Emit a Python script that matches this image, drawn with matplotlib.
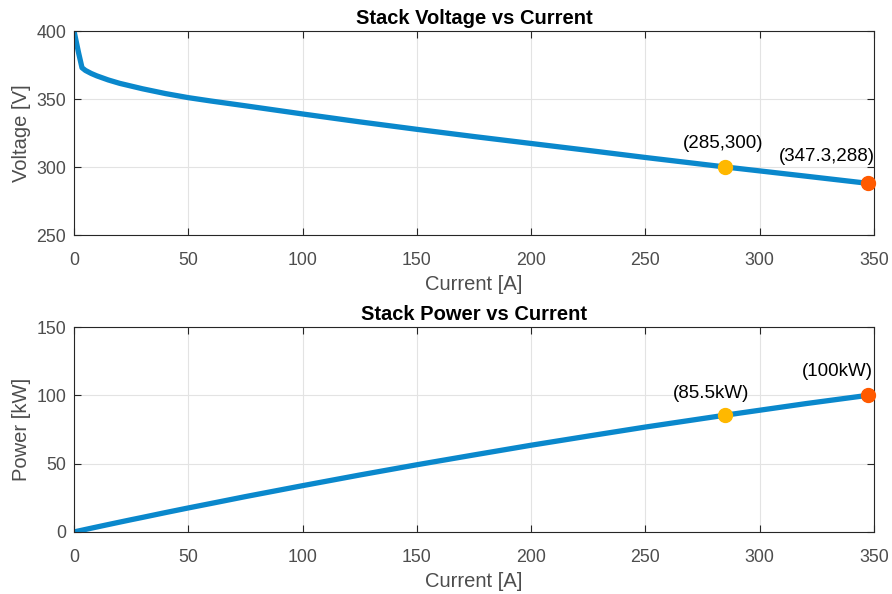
import matplotlib
matplotlib.use("Agg")
import matplotlib.pyplot as plt

plt.rcParams['font.family'] = ['Liberation Sans', 'DejaVu Sans']

current = [0, 1, 2, 3.5, 5, 7.5, 10, 15, 20, 25, 30, 40, 50, 60, 75, 100, 125,
           150, 175, 200, 225, 250, 285, 320, 347.3]
voltage = [400, 392, 384, 373, 371, 368.8, 367, 364, 361.5, 359.5, 357.5, 354,
           351, 348.5, 345, 339, 333.2, 327.7, 322.4, 317.3, 312.2, 307, 300,
           293.3, 288]
power = [0, 0.39, 0.77, 1.31, 1.86, 2.77, 3.67, 5.46, 7.23, 8.99, 10.7, 14.2,
         17.6, 20.9, 25.9, 33.9, 41.7, 49.2, 56.4, 63.5, 70.2, 76.8, 85.5,
         93.9, 100]

op_current = 285
op_voltage = 300
op_power = 85.5
max_current = 347.3
max_voltage = 288
max_power = 100

xticks = [0, 50, 100, 150, 200, 250, 300, 350]

blue = '#0A88CC'
yellow = '#FFB800'
orange = '#FF5A00'
dark = '#262626'
label_gray = '#4D4D4D'

fig = plt.figure(figsize=(8.92, 5.94), dpi=100)
W, H = 892, 594
ax1 = fig.add_axes([74 / W, 1 - 235 / H, 800 / W, 204 / H])
ax2 = fig.add_axes([74 / W, 1 - 532 / H, 800 / W, 205 / H])

def style(ax):
    ax.set_xlim(0, 350)
    ax.set_xticks(xticks)
    ax.grid(True, color='#E3E3E3', linewidth=0.8)
    ax.set_axisbelow(True)
    ax.tick_params(direction='in', top=True, right=True, colors=dark,
                   labelcolor=label_gray, labelsize=12.8, length=5)
    ax.tick_params(axis='x', pad=12.3)
    ax.tick_params(axis='y', pad=5.5)
    for s in ax.spines.values():
        s.set_color(dark)
        s.set_linewidth(0.8)
    ax.set_xlabel('Current [A]', fontsize=14.5, color=label_gray, labelpad=4)

ax1.plot(current, voltage, color=blue, linewidth=3.8, solid_capstyle='butt')
ax1.plot([op_current], [op_voltage], 'o', color=yellow, markersize=10, zorder=5)
ax1.plot([max_current], [max_voltage], 'o', color=orange, markersize=10, zorder=5,
         clip_on=False)
ax1.set_ylim(250, 400)
ax1.set_yticks([250, 300, 350, 400])
style(ax1)
ax1.set_ylabel('Voltage [V]', fontsize=14.5, color=label_gray, labelpad=4)
ax1.set_title('Stack Voltage vs Current', fontsize=14.5, fontweight='bold',
              color='black', pad=5)
ax1.text(284, 317.5, f'({op_current},{op_voltage})', ha='center', va='center',
         fontsize=13.5, color='black')
ax1.text(329.4, 308, f'({max_current},{max_voltage})', ha='center', va='center',
         fontsize=13.5, color='black')

ax2.plot(current, power, color=blue, linewidth=3.8, solid_capstyle='butt')
ax2.plot([op_current], [op_power], 'o', color=yellow, markersize=10, zorder=5)
ax2.plot([max_current], [max_power], 'o', color=orange, markersize=10, zorder=5,
         clip_on=False)
ax2.set_ylim(0, 150)
ax2.set_yticks([0, 50, 100, 150])
style(ax2)
ax2.set_ylabel('Power [kW]', fontsize=14.5, color=label_gray, labelpad=4)
ax2.set_title('Stack Power vs Current', fontsize=14.5, fontweight='bold',
              color='black', pad=5)
ax2.text(278.7, 101.7, f'({op_power}kW)', ha='center', va='center',
         fontsize=13.5, color='black')
ax2.text(333.8, 117.8, f'({max_power}kW)', ha='center', va='center',
         fontsize=13.5, color='black')

fig.savefig('out.png', dpi=100, facecolor='white')
